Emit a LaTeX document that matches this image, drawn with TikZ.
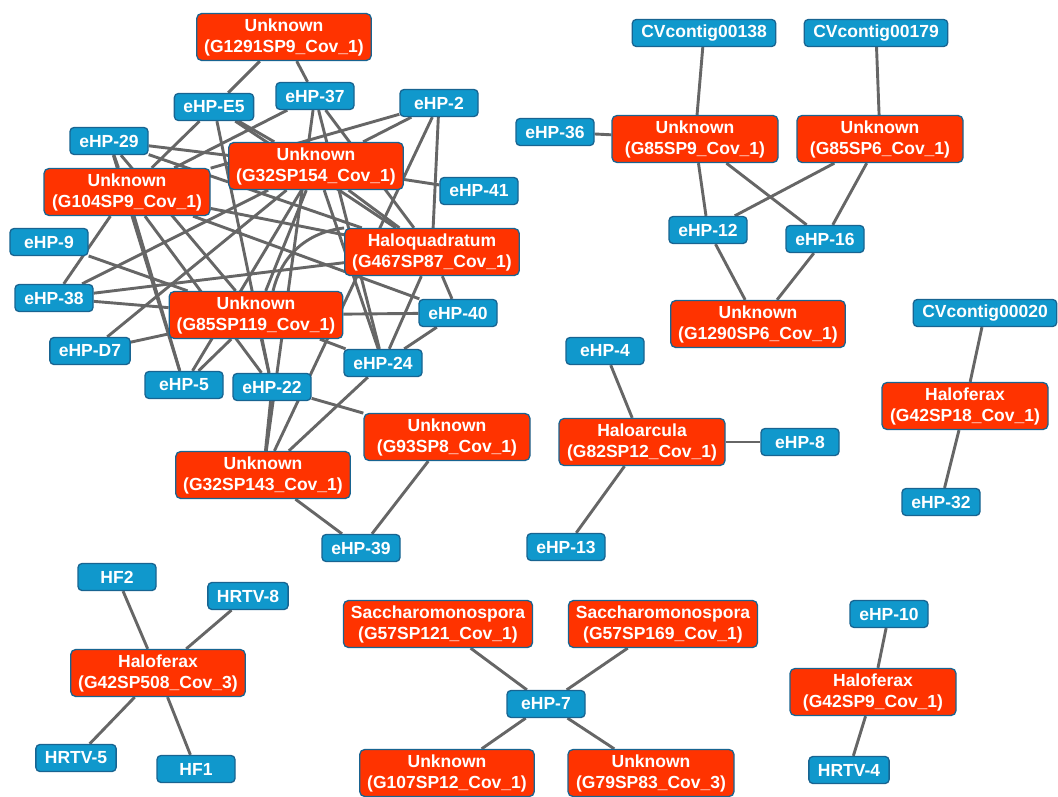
\documentclass[tikz,border=0pt]{standalone}
\usepackage{fontspec}
\setmainfont{Liberation Sans}
\usetikzlibrary{backgrounds}
\definecolor{redfill}{RGB}{255,51,0}
\definecolor{bluefill}{RGB}{16,152,204}
\definecolor{bordc}{RGB}{24,100,145}
\definecolor{edgec}{RGB}{102,102,102}
\begin{document}
\begin{tikzpicture}[x=1pt,y=-1pt,
  every node/.style={font=\bfseries\fontsize{17.5}{21}\selectfont, text=white},
  redn/.style={draw=bordc, fill=redfill, rounded corners=5pt, line width=1.3pt, align=center, inner xsep=7.5pt, inner ysep=2pt, minimum height=47pt, minimum width=166pt},
  bluen/.style={draw=bordc, fill=bluefill, rounded corners=4pt, line width=1.3pt, minimum width=78pt, minimum height=27pt, inner xsep=9pt, inner ysep=0pt},
  link/.style={draw=edgec, line width=2.9pt}]
\useasboundingbox (0,0) rectangle (1058,797);
% left cluster
\node[redn]  (g1291) at (284,37)  {Unknown\\(G1291SP9\_Cov\_1)};
\node[bluen] (e5)    at (214,107) {eHP-E5};
\node[bluen] (e37)   at (315,96)  {eHP-37};
\node[bluen] (e2)    at (439,103) {eHP-2};
\node[bluen] (e29)   at (109,141) {eHP-29};
\node[redn]  (g32a)  at (316,166) {Unknown\\(G32SP154\_Cov\_1)};
\node[redn]  (g104)  at (127,192) {Unknown\\(G104SP9\_Cov\_1)};
\node[bluen] (e41)   at (479,191) {eHP-41};
\node[bluen] (e9)    at (49,242)  {eHP-9};
\node[redn]  (hq)    at (432,252) {Haloquadratum\\(G467SP87\_Cov\_1)};
\node[bluen] (e38)   at (54,298)  {eHP-38};
\node[redn]  (g85b)  at (256,315) {Unknown\\(G85SP119\_Cov\_1)};
\node[bluen] (e40)   at (458,313) {eHP-40};
\node[bluen] (ed7)   at (90,351)  {eHP-D7};
\node[bluen] (e24)   at (383,363) {eHP-24};
\node[bluen] (e5b)   at (184,385) {eHP-5};
\node[bluen] (e22)   at (272,387) {eHP-22};
\node[redn]  (g93)   at (447,437) {Unknown\\(G93SP8\_Cov\_1)};
\node[redn]  (g32b)  at (263,475) {Unknown\\(G32SP143\_Cov\_1)};
\node[bluen] (e39)   at (361,548) {eHP-39};
% top right cluster
\node[bluen] (cv138) at (704,33)  {CVcontig00138};
\node[bluen] (cv179) at (876,33)  {CVcontig00179};
\node[bluen] (e36)   at (555,132) {eHP-36};
\node[redn]  (g85c)  at (695,139) {Unknown\\(G85SP9\_Cov\_1)};
\node[redn]  (g85d)  at (880,139) {Unknown\\(G85SP6\_Cov\_1)};
\node[bluen] (e12)   at (708,230) {eHP-12};
\node[bluen] (e16)   at (825,239) {eHP-16};
\node[redn]  (g1290) at (758,324) {Unknown\\(G1290SP6\_Cov\_1)};
% haloarcula
\node[bluen] (e4)    at (605,351) {eHP-4};
\node[redn]  (ha)    at (642,442) {Haloarcula\\(G82SP12\_Cov\_1)};
\node[bluen] (e8)    at (800,442) {eHP-8};
\node[bluen] (e13)   at (566,547) {eHP-13};
% haloferax 18
\node[bluen] (cv20)  at (985,313) {CVcontig00020};
\node[redn]  (hx18)  at (965,406) {Haloferax\\(G42SP18\_Cov\_1)};
\node[bluen] (e32)   at (941,502) {eHP-32};
% haloferax 508
\node[bluen] (hf2)   at (117,577) {HF2};
\node[bluen] (hr8)   at (248,596) {HRTV-8};
\node[redn]  (hx508) at (158,673) {Haloferax\\(G42SP508\_Cov\_3)};
\node[bluen] (hr5)   at (76,758)  {HRTV-5};
\node[bluen] (hf1)   at (196,769) {HF1};
% eHP-7
\node[redn]  (s121)  at (438,624) {Saccharomonospora\\(G57SP121\_Cov\_1)};
\node[redn]  (s169)  at (663,624) {Saccharomonospora\\(G57SP169\_Cov\_1)};
\node[bluen] (e7)    at (546,704) {eHP-7};
\node[redn]  (g107)  at (447,773) {Unknown\\(G107SP12\_Cov\_1)};
\node[redn]  (g79)   at (651,773) {Unknown\\(G79SP83\_Cov\_3)};
% haloferax 9
\node[bluen] (e10)   at (889,614) {eHP-10};
\node[redn]  (hx9)   at (873,692) {Haloferax\\(G42SP9\_Cov\_1)};
\node[bluen] (hr4)   at (849,770) {HRTV-4};

\begin{pgfonlayer}{background}
\fill[white] (0,0) rectangle (1058,797);
\foreach \a/\b in {g1291/e5, g1291/e37, e5/g104, e5/g32a, e5/e22, e5/hq,
  e37/g104, e37/g32b, e37/e24, e37/hq,
  e2/g32a, e2/g104, e2/hq, e2/g32b,
  e29/g104, e29/hq, e29/g32a, e29/e5b, e29/g85b,
  g104/e38, g104/hq, g104/e5b, g104/e40, g104/e22,
  e9/g85b, e38/hq, e38/g85b, e38/g32a, ed7/g85b, ed7/g32a,
  e5b/g32a, e5b/g85b, e22/g85b, e22/g32b, e22/g93,
  e24/g32b, e24/g85b, e24/hq, e24/g32a, e24/e40,
  e40/g85b, e40/hq, g32a/e41, g32a/g85b, g32a/hq,
  g32b/e39, g93/e39,
  cv138/g85c, cv179/g85d, e36/g85c, g85c/e12, g85c/e16, g85d/e12, g85d/e16,
  e12/g1290, e16/g1290,
  e4/ha, ha/e8, ha/e13, cv20/hx18, hx18/e32,
  hf2/hx508, hr8/hx508, hr5/hx508, hf1/hx508,
  s121/e7, s169/e7, e7/g107, e7/g79, e10/hx9, hx9/hr4}
  {\draw[link] (\a) -- (\b);}
\draw[link] (hq) to[bend right=35] (g85b);
\end{pgfonlayer}
\end{tikzpicture}
\end{document}
